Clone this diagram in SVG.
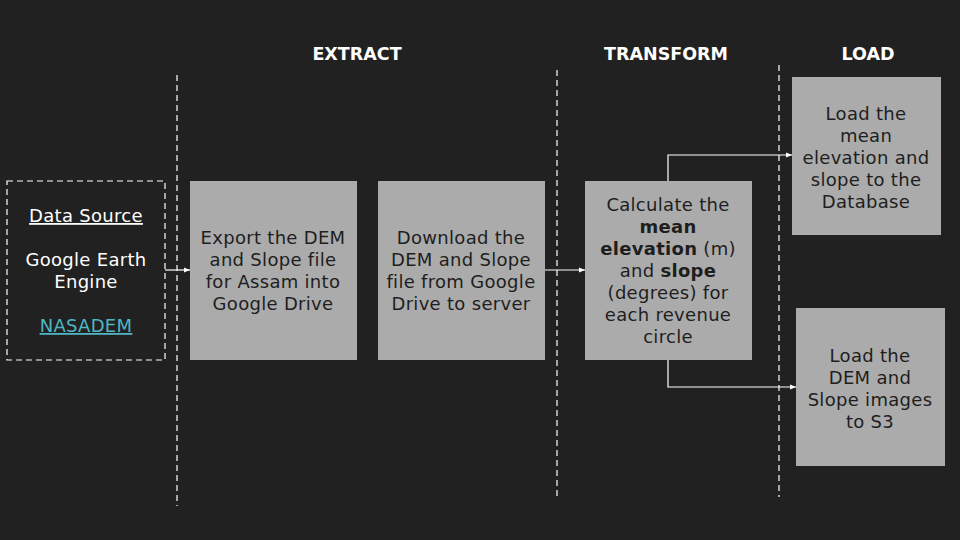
<svg xmlns="http://www.w3.org/2000/svg" width="960" height="540" viewBox="0 0 960 540">
<defs>
<style>
.t{font-family:"DejaVu Sans","Open Sans",sans-serif;font-size:18px;letter-spacing:0.3px;text-anchor:middle;}
.w{fill:#ffffff;}
.d{fill:#1e1e1e;}
.h{font-family:"DejaVu Sans","Open Sans",sans-serif;font-size:17.5px;font-weight:bold;fill:#ffffff;text-anchor:middle;}
.box{fill:#ababab;}
.sep{stroke:#ffffff;stroke-width:1.2;stroke-dasharray:6,4;fill:none;}
.con{stroke:#ffffff;stroke-width:1.2;fill:none;marker-end:url(#ah);}
.b{font-weight:bold;}
</style>
<marker id="ah" viewBox="0 0 10 10" refX="10" refY="5" markerWidth="6" markerHeight="6" orient="auto" markerUnits="userSpaceOnUse">
<path d="M0,1 L10,5 L0,9 z" fill="#ffffff"/>
</marker>
</defs>
<rect width="960" height="540" fill="#212121"/>
<g id="separators">
<line class="sep" x1="177" y1="75" x2="177" y2="506"/>
<line class="sep" x1="557" y1="70" x2="557" y2="500"/>
<line class="sep" x1="779" y1="65" x2="779" y2="497"/>
</g>
<g id="headers">
<text class="h" x="357" y="60">EXTRACT</text>
<text class="h" x="666" y="60">TRANSFORM</text>
<text class="h" x="868" y="60">LOAD</text>
</g>
<g id="connectors">
<path class="con" d="M165,270 L190,270"/>
<path class="con" d="M545,270 L585,270"/>
<path class="con" d="M668,181 L668,155 L792,155"/>
<path class="con" d="M668,360 L668,387 L796,387"/>
</g>
<g id="source">
<rect x="7" y="181" width="158" height="179" fill="none" stroke="#ffffff" stroke-width="1.2" stroke-dasharray="6,4"/>
<text class="t w" x="86" y="222" text-decoration="underline">Data Source</text>
<text class="t w" x="86" y="266">Google Earth</text>
<text class="t w" x="86" y="288">Engine</text>
<text class="t" x="86" y="332" fill="#4fb6c2" text-decoration="underline">NASADEM</text>
</g>
<g id="export">
<rect class="box" x="190" y="181" width="167" height="179"/>
<text class="t d" x="273" y="244">Export the DEM</text>
<text class="t d" x="273" y="266">and Slope file</text>
<text class="t d" x="273" y="288">for Assam into</text>
<text class="t d" x="273" y="310">Google Drive</text>
</g>
<g id="download">
<rect class="box" x="378" y="181" width="167" height="179"/>
<text class="t d" x="461" y="244">Download the</text>
<text class="t d" x="461" y="266">DEM and Slope</text>
<text class="t d" x="461" y="288">file from Google</text>
<text class="t d" x="461" y="310">Drive to server</text>
</g>
<g id="calculate">
<rect class="box" x="585" y="181" width="167" height="179"/>
<text class="t d" x="668" y="211">Calculate the</text>
<text class="t d b" x="668" y="233">mean</text>
<text class="t d" x="668" y="255"><tspan class="b">elevation</tspan> (m)</text>
<text class="t d" x="668" y="277">and <tspan class="b">slope</tspan></text>
<text class="t d" x="668" y="299">(degrees) for</text>
<text class="t d" x="668" y="321">each revenue</text>
<text class="t d" x="668" y="343">circle</text>
</g>
<g id="load-db">
<rect class="box" x="792" y="77" width="149" height="158"/>
<text class="t d" x="866" y="120">Load the</text>
<text class="t d" x="866" y="142">mean</text>
<text class="t d" x="866" y="164">elevation and</text>
<text class="t d" x="866" y="186">slope to the</text>
<text class="t d" x="866" y="208">Database</text>
</g>
<g id="load-s3">
<rect class="box" x="796" y="308" width="149" height="158"/>
<text class="t d" x="870" y="362">Load the</text>
<text class="t d" x="870" y="384">DEM and</text>
<text class="t d" x="870" y="406">Slope images</text>
<text class="t d" x="870" y="428">to S3</text>
</g>
</svg>
